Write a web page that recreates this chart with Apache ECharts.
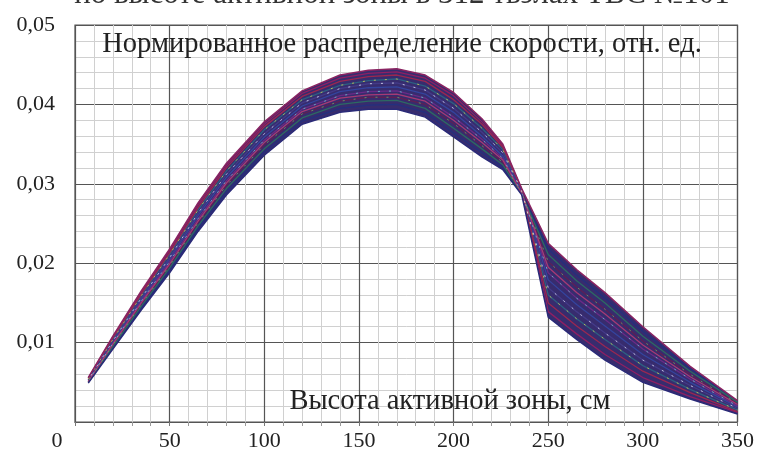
<!DOCTYPE html>
<html><head><meta charset="utf-8">
<script src="https://cdn.jsdelivr.net/npm/echarts@6/dist/echarts.min.js"></script>
<style>html,body{margin:0;padding:0;background:#fff}#c{width:757px;height:460px}</style>
</head><body><div id="c"></div>
<script>
// Height of core, cm
const heights = [7, 20, 35, 50, 65, 80, 100, 120, 140, 155, 170, 185, 200, 215, 226, 236, 250, 265, 280, 300, 325, 350];
// Envelope of the ensemble of curves
const lowerEnv = [.0049, .0092, .0141, .0188, .0240, .0286, .0336, .0375, .0390, .0394, .0394, .0384, .0359, .0334, .0318, .0286, .0132, .0104, .0078, .0050, .0029, .0010];
const upperEnv = [.0056, .0108, .0165, .0218, .0276, .0326, .0378, .0417, .0437, .0443, .0445, .0437, .0415, .0382, .0350, .0294, .0225, .0192, .0163, .0120, .0070, .0027];
// Individual representative curves
const curve1  = [.0055, .0107, .0163, .0216, .0273, .0323, .0375, .0414, .0433, .0439, .0441, .0433, .0411, .0378, .0348, .0293, .0139, .0111, .0085, .0056, .0032, .0012];
const curve2  = [.0050, .0094, .0143, .0191, .0244, .0290, .0340, .0379, .0395, .0399, .0400, .0390, .0364, .0339, .0321, .0287, .0218, .0185, .0156, .0114, .0067, .0026];
const curve3  = [.0054, .0104, .0159, .0211, .0267, .0316, .0368, .0406, .0424, .0430, .0432, .0423, .0401, .0370, .0343, .0292, .0160, .0130, .0104, .0071, .0041, .0015];
const curve4  = [.0051, .0097, .0148, .0197, .0251, .0298, .0349, .0388, .0404, .0409, .0409, .0400, .0376, .0348, .0327, .0288, .0202, .0170, .0142, .0102, .0060, .0023];
const curve5  = [.0053, .0101, .0154, .0205, .0260, .0308, .0359, .0398, .0416, .0421, .0422, .0413, .0390, .0360, .0335, .0290, .0179, .0148, .0121, .0085, .0050, .0019];
const curve6  = [.0052, .0099, .0152, .0202, .0256, .0304, .0355, .0394, .0411, .0416, .0417, .0408, .0384, .0356, .0332, .0289, .0188, .0156, .0129, .0092, .0054, .0020];
const curve7  = [.0055, .0106, .0161, .0213, .0270, .0320, .0372, .0410, .0429, .0435, .0437, .0429, .0406, .0375, .0346, .0293, .0150, .0121, .0095, .0064, .0037, .0013];
const curve8  = [.0050, .0095, .0146, .0194, .0247, .0294, .0344, .0383, .0400, .0404, .0405, .0395, .0370, .0344, .0324, .0287, .0211, .0178, .0150, .0108, .0064, .0025];
const curve9  = [.0053, .0102, .0156, .0207, .0263, .0312, .0363, .0402, .0420, .0426, .0427, .0418, .0395, .0365, .0339, .0291, .0169, .0139, .0112, .0078, .0046, .0017];
const curve10 = [.0051, .0098, .0150, .0199, .0253, .0301, .0352, .0391, .0408, .0412, .0413, .0404, .0380, .0352, .0330, .0288, .0195, .0163, .0136, .0097, .0057, .0022];
const curves = [curve1, curve2, curve3, curve4, curve5, curve6, curve7, curve8, curve9, curve10];
const curveColors = ['#8e1f63', '#24307e', '#2d5f80', '#5e1f55', '#34449e', '#6a2a86', '#9a2750', '#2c6a62', '#433a88', '#a63a74'];
const speckCurves = [curve3, curve6, curve9, curve4];
const speckColors = ['#d8c850', '#60c8d0', '#e0e0f0', '#58b070'];
const yLabels = {0.01: '0,01', 0.02: '0,02', 0.03: '0,03', 0.04: '0,04', 0.05: '0,05'};
const topLine = 'по высоте активной зоны в 312 твэлах ТВС №101';
const chartTitle = 'Нормированное распределение скорости, отн. ед.';
const xTitle = 'Высота активной зоны, см';

const FONT = 'Liberation Serif';
const pairs = arr => heights.map((h, i) => [h, arr[i]]);

const series = [];
// filled band between the envelopes, drawn through the axes' scales
series.push({
  type: 'custom', silent: true, z: 2, clip: true,
  data: [0],
  renderItem: (params, api) => {
    const pts = [];
    heights.forEach((h, i) => pts.push(api.coord([h, upperEnv[i]])));
    for (let i = heights.length - 1; i >= 0; i--) pts.push(api.coord([heights[i], lowerEnv[i]]));
    return {type: 'polygon', shape: {points: pts}, style: {fill: '#372c6e', stroke: null}};
  }
});
curves.forEach((c, k) => series.push({
  type: 'line', data: pairs(c), symbol: 'none', silent: true,
  lineStyle: {width: 1.3, color: curveColors[k]}, z: 3
}));
speckCurves.forEach((c, k) => series.push({
  type: 'line', data: pairs(c), symbol: 'none', silent: true,
  lineStyle: {width: 1, color: speckColors[k], type: [2, 9], opacity: 0.8, dashOffset: k * 3}, z: 4
}));
series.push({type: 'line', data: pairs(upperEnv), symbol: 'none', silent: true, lineStyle: {width: 1.5, color: '#8a2462'}, z: 5});
series.push({type: 'line', data: pairs(lowerEnv), symbol: 'none', silent: true, lineStyle: {width: 1.5, color: '#2a2a78'}, z: 5});

const chart = echarts.init(document.getElementById('c'), null, {renderer: 'canvas'});
chart.setOption({
  animation: false,
  backgroundColor: '#fff',
  grid: {left: 75, right: 17, top: 25, bottom: 38, show: true, borderColor: '#555', borderWidth: 1.2, backgroundColor: 'transparent'},
  xAxis: {
    type: 'value', min: 0, max: 350, interval: 50,
    axisLine: {show: true, lineStyle: {color: '#555', width: 1.2}},
    axisTick: {show: true, length: 4, lineStyle: {color: '#777'}},
    minorTick: {show: true, splitNumber: 5, length: 4, lineStyle: {color: '#999', width: 1}},
    splitLine: {show: true, lineStyle: {color: '#555', width: 1.2}},
    minorSplitLine: {show: true, lineStyle: {color: '#d0d0d0', width: 1}},
    axisLabel: {
      fontFamily: FONT, fontSize: 22, color: '#222', margin: 8,
      formatter: v => v === 0 ? '{z|0}' : String(v),
      rich: {z: {fontFamily: FONT, fontSize: 22, color: '#222', padding: [0, 36, 0, 0]}}
    }
  },
  yAxis: {
    type: 'value', min: 0, max: 0.05, interval: 0.01,
    axisLine: {show: false},
    axisTick: {show: false},
    splitLine: {show: true, lineStyle: {color: '#555', width: 1.2}},
    minorTick: {show: false, splitNumber: 5},
    minorSplitLine: {show: true, lineStyle: {color: '#d0d0d0', width: 1}},
    axisLabel: {
      fontFamily: FONT, fontSize: 22, color: '#222', margin: 20,
      formatter: v => yLabels[Math.round(v * 100) / 100] || ''
    }
  },
  graphic: [
    {type: 'text', x: 402, y: -5, silent: true, z: 10, style: {text: topLine, font: '31px "Liberation Serif"', fill: '#333', textAlign: 'center', textVerticalAlign: 'middle'}},
    {type: 'text', x: 402, y: 45, silent: true, z: 10, style: {text: chartTitle, font: '28.5px "Liberation Serif"', fill: '#222', textAlign: 'center', textVerticalAlign: 'middle'}},
    {type: 'text', x: 450, y: 402, silent: true, z: 10, style: {text: xTitle, font: '28.5px "Liberation Serif"', fill: '#222', textAlign: 'center', textVerticalAlign: 'middle'}}
  ],
  series: series
});
</script>
</body></html>
